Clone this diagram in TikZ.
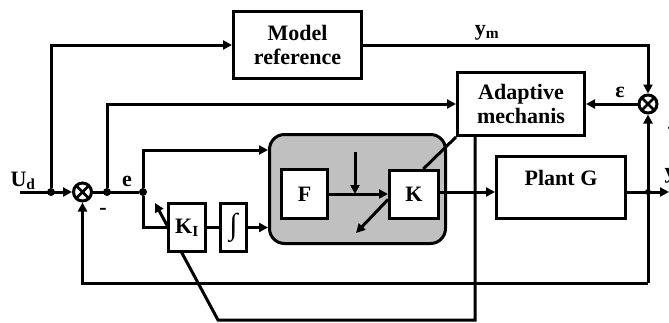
\documentclass[tikz,border=0pt]{standalone}
\usepackage{fontspec}
\setmainfont{Liberation Serif}
\usetikzlibrary{arrows.meta,positioning,calc,backgrounds}
\definecolor{ctrlgray}{HTML}{C0C0C0}
\tikzset{
  blockbox/.style={draw, line width=3pt, fill=white, align=center,
                   inner sep=2pt, font=\bfseries\fontsize{22}{24}\selectfont},
  ctrlbox/.style={draw, line width=3pt, fill=ctrlgray, rounded corners=15pt},
  sumnode/.style={draw, circle, line width=3pt, fill=white, minimum size=18pt,
                  inner sep=0pt,
                  path picture={\draw[line width=2.8pt]
                    (path picture bounding box.south west) -- (path picture bounding box.north east)
                    (path picture bounding box.north west) -- (path picture bounding box.south east);}},
  dotnode/.style={circle, fill, minimum size=8pt, inner sep=0pt},
  lbl/.style={font=\bfseries\fontsize{22}{24}\selectfont, inner sep=1pt},
  ln/.style={line width=3pt},
  arr/.style={-{Triangle[length=9pt,width=9pt]}, line width=3pt}}

\begin{document}
\begin{tikzpicture}[x=1pt, y=-1pt]
  \useasboundingbox (0,0) rectangle (669,322);

  % blocks
  \node[blockbox, minimum width=128pt, minimum height=67pt] (model) at (297.5,45) {Model\\reference};
  \node[blockbox, minimum width=127pt, minimum height=63pt] (adapt) at (521,104) {Adaptive\\mechanis};
  \node[ctrlbox, minimum width=176pt, minimum height=109pt] (ctrl) at (357.5,189) {};
  \node[blockbox, minimum width=46pt, minimum height=49pt] (F) at (304.5,194) {F};
  \node[blockbox, minimum width=49pt, minimum height=48pt] (K) at (414,194.5) {K};
  \node[blockbox, minimum width=37pt, minimum height=48pt] (KI) at (187,227.5) {K\textsubscript{I}};
  \node[blockbox, minimum width=26pt, minimum height=48pt, font=\fontsize{30}{30}\selectfont] (integ) at (233.5,227.5) {∫};
  \node[blockbox, minimum width=129pt, minimum height=62pt] (plant) at (561,187.5) {};
  \node[lbl] (plantlbl) at (561,178) {Plant G};

  % summing points and branch points
  \node[sumnode] (sum1) at (82.5,192) {};
  \node[sumnode] (sum2) at (648,104) {};
  \node[dotnode] (d1) at (51,192) {};
  \node[dotnode] (d2) at (107,192) {};
  \node[dotnode] (d3) at (143,192) {};
  \node[dotnode, minimum size=6pt] (d4) at (648,192) {};
  \coordinate (in) at (20,192);
  \coordinate (out) at (669,192);
  \coordinate (fb) at (648,283);
  \coordinate (ftop) at (355,152);
  \coordinate (kdiag) at (356,233);
  \coordinate (kitip) at (155,203);

  % connectors
  \draw[arr] (in) -- (sum1.west);
  \draw[arr] (d1) |- (model.west);
  \draw[arr] (model.east) -| (sum2.north);
  \draw[arr] (sum2.west) -- (adapt.east);
  \draw[arr] (d2) |- (adapt.west);
  \draw[ln] (sum1.east) -- (d3);
  \draw[arr] (d3) |- (ctrl.west |- 0,150);
  \draw[ln] (d3) |- (KI.west);
  \draw[ln] (KI.east) -- (integ.west);
  \draw[arr] (integ.east) -- (ctrl.west |- integ.east);
  \draw[arr] (F.east) -- (K.west |- F.east);
  \draw[arr] (ftop) -- (ftop |- F.east);
  \draw[arr] ($(K.west)+(0,5)$) -- (kdiag);
  \draw[ln] (adapt.south west) -- (K.70);
  \draw[arr] (K.east |- d4) -- (plant.west |- d4);
  \draw[arr] (plant.east |- d4) -- (out);
  \draw[arr] (fb) -- (sum2.south);
  \draw[arr] (fb) -| (sum1.south);
  \begin{pgfonlayer}{background}
    \draw[arr] ($(adapt.south west)+(19,0)$) |- (218,320) -- (kitip);
  \end{pgfonlayer}

  % signal labels
  \node[lbl] (udlbl) at (23,181) {U\textsubscript{d}};
  \node[lbl] (elbl) at (127,181) {e};
  \node[lbl] (minus1) at (103,211) {-};
  \node[lbl] (ymlbl) at (487,33) {y\textsubscript{m}};
  \node[lbl] (epslbl) at (620,92) {ε};
  \node[lbl] (minus2) at (671,130) {-};
  \node[lbl] (ylbl) at (670,176) {y};
\end{tikzpicture}
\end{document}
